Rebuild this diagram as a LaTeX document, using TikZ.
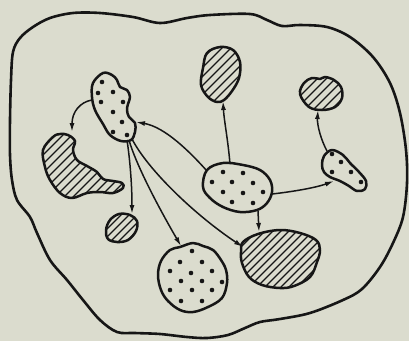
\documentclass[tikz,border=0pt]{standalone}
\usetikzlibrary{arrows.meta}
\definecolor{paper}{RGB}{219,220,206}
\definecolor{ink}{RGB}{22,22,22}
\tikzset{
  outline/.style={draw=ink, line width=2.6pt, line join=round},
  blob/.style={draw=ink, line width=2.5pt, line join=round},
  hatch/.style={draw=ink, line width=1.3pt},
  link/.style={draw=ink, line width=1.5pt, -{Latex[length=9pt,width=5pt]}},
  dotfill/.style={fill=ink}
}
\newcommand\hatchblob[2]{%
  \begin{scope}
    \clip plot[smooth cycle, tension=0.6] coordinates {#1};
    \foreach \i in {0,...,110} {\draw[hatch] ({\i*#2-400},400) -- ({\i*#2},0);}
  \end{scope}
  \draw[blob] plot[smooth cycle, tension=0.6] coordinates {#1};
}
\newcommand\dotblob[2]{%
  \draw[blob] plot[smooth cycle, tension=0.6] coordinates {#1};
  \foreach \p in {#2} {\fill[dotfill] \p circle (2.3);}
}
\begin{document}
\begin{tikzpicture}[x=1pt,y=-1pt]
\fill[paper] (0,0) rectangle (409,341);
\useasboundingbox (0,0) rectangle (409,341);

% outer region
\draw[outline] plot[smooth cycle, tension=0.55] coordinates {
 (10,120) (11,80) (13,52) (20,38) (33,27) (50,18) (73,13) (100,13) (133,17)
 (160,23) (187,18) (210,15) (250,14) (267,20) (282,26) (300,25) (327,27)
 (350,37) (373,57) (390,83) (400,113) (406,150) (407,183) (403,217) (393,243)
 (380,267) (362,289) (343,300) (310,313) (280,319) (260,322) (245,328)
 (228,335) (207,338) (187,337) (160,334) (135,333) (117,332) (100,320)
 (83,300) (67,280) (50,260) (37,233) (30,217) (17,200) (12,180) (10,155)};

% A dotted (top left)
\dotblob{(103,73) (112,75) (117,80) (120,87) (127,90) (130,97) (128,104) (127,110)
 (129,117) (135,123) (135,132) (131,140) (121,141) (110,135) (103,124) (95,110) (92,97) (93,83)}
 {(102,82),(98,93),(113,92),(101,102),(123,102),(113,112),(122,122),(113,132),(127,135)}

% B hatched (left)
\hatchblob{(53,137) (60,134) (68,135) (75,141) (73,150) (77,160) (87,166) (97,172)
 (103,179) (113,181) (122,183) (123,188) (113,193) (100,192) (87,193) (72,198)
 (60,193) (50,180) (45,167) (43,150)}{9}

% C hatched small
\hatchblob{(106,230) (110,220) (119,214) (130,215) (137,221) (136,231) (128,240) (117,242) (108,239)}{8}

% D dotted bottom
\dotblob{(170,250) (180,247) (193,243) (203,246) (213,250) (221,260) (226,270) (227,283)
 (222,298) (208,307) (193,312) (180,310) (168,301) (161,290) (158,275) (161,261)}
 {(192,251),(180,262),(202,262),(170,271),(191,273),(212,271),(181,281),(202,281),
  (222,282),(170,290),(192,290),(212,290),(181,301),(202,301)}

% E hatched large
\hatchblob{(243,242) (258,234) (280,230) (300,233) (316,240) (320,250) (317,262)
 (310,277) (294,286) (280,288) (262,285) (249,277) (242,263) (241,252)}{8}

% F dotted centre
\dotblob{(207,170) (223,163) (243,165) (260,170) (270,180) (272,192) (267,203)
 (257,210) (240,212) (223,207) (210,198) (203,187)}
 {(223,172),(243,173),(212,182),(232,182),(253,183),(223,192),(243,193),(263,192),(232,202),(253,203)}

% G hatched top
\hatchblob{(207,53) (220,47) (233,50) (240,62) (239,78) (232,91) (224,100) (217,102)
 (208,97) (201,85) (203,68)}{9}

% H hatched top right
\hatchblob{(300,94) (304,83) (312,78) (320,79) (325,77) (334,80) (341,87) (342,98)
 (335,107) (322,110) (309,107)}{9}

% I dotted right
\dotblob{(322,165) (324,156) (332,150) (343,155) (350,163) (359,172) (366,181)
 (365,189) (357,191) (349,186) (340,181) (330,177) (324,172)}
 {(332,154),(341,162),(332,172),(351,172),(361,182)}

% connector ends
\coordinate (aL) at (92,100);   \coordinate (bT) at (72,132);
\coordinate (aC) at (127,140);  \coordinate (cT) at (132,214);
\coordinate (aD) at (129,140);  \coordinate (dT) at (181,246);
\coordinate (aE) at (132,139);  \coordinate (eL) at (243,247);
\coordinate (fA) at (207,171);  \coordinate (aR) at (136,122);
\coordinate (fG) at (230,164);  \coordinate (gB) at (223,101);
\coordinate (fE) at (258,211);  \coordinate (eT) at (259,232);
\coordinate (fI) at (272,194);  \coordinate (iL) at (334,181);
\coordinate (iT) at (327,151);  \coordinate (hB) at (318,110);

\draw[link] (aL) .. controls (80,102) and (72,112) .. (bT);
\draw[link] (aC) .. controls (130,160) and (132,185) .. (cT);
\draw[link] (aD) .. controls (136,165) and (160,210) .. (dT);
\draw[link] (aE) .. controls (148,170) and (195,215) .. (eL);
\draw[link] (fA) .. controls (190,152) and (165,127) .. (aR);
\draw[link] (fG) .. controls (228,140) and (224,120) .. (gB);
\draw[link] (fE) -- (eT);
\draw[link] (fI) .. controls (290,192) and (315,188) .. (iL);
\draw[link] (iT) .. controls (321,140) and (317,125) .. (hB);
\end{tikzpicture}
\end{document}
